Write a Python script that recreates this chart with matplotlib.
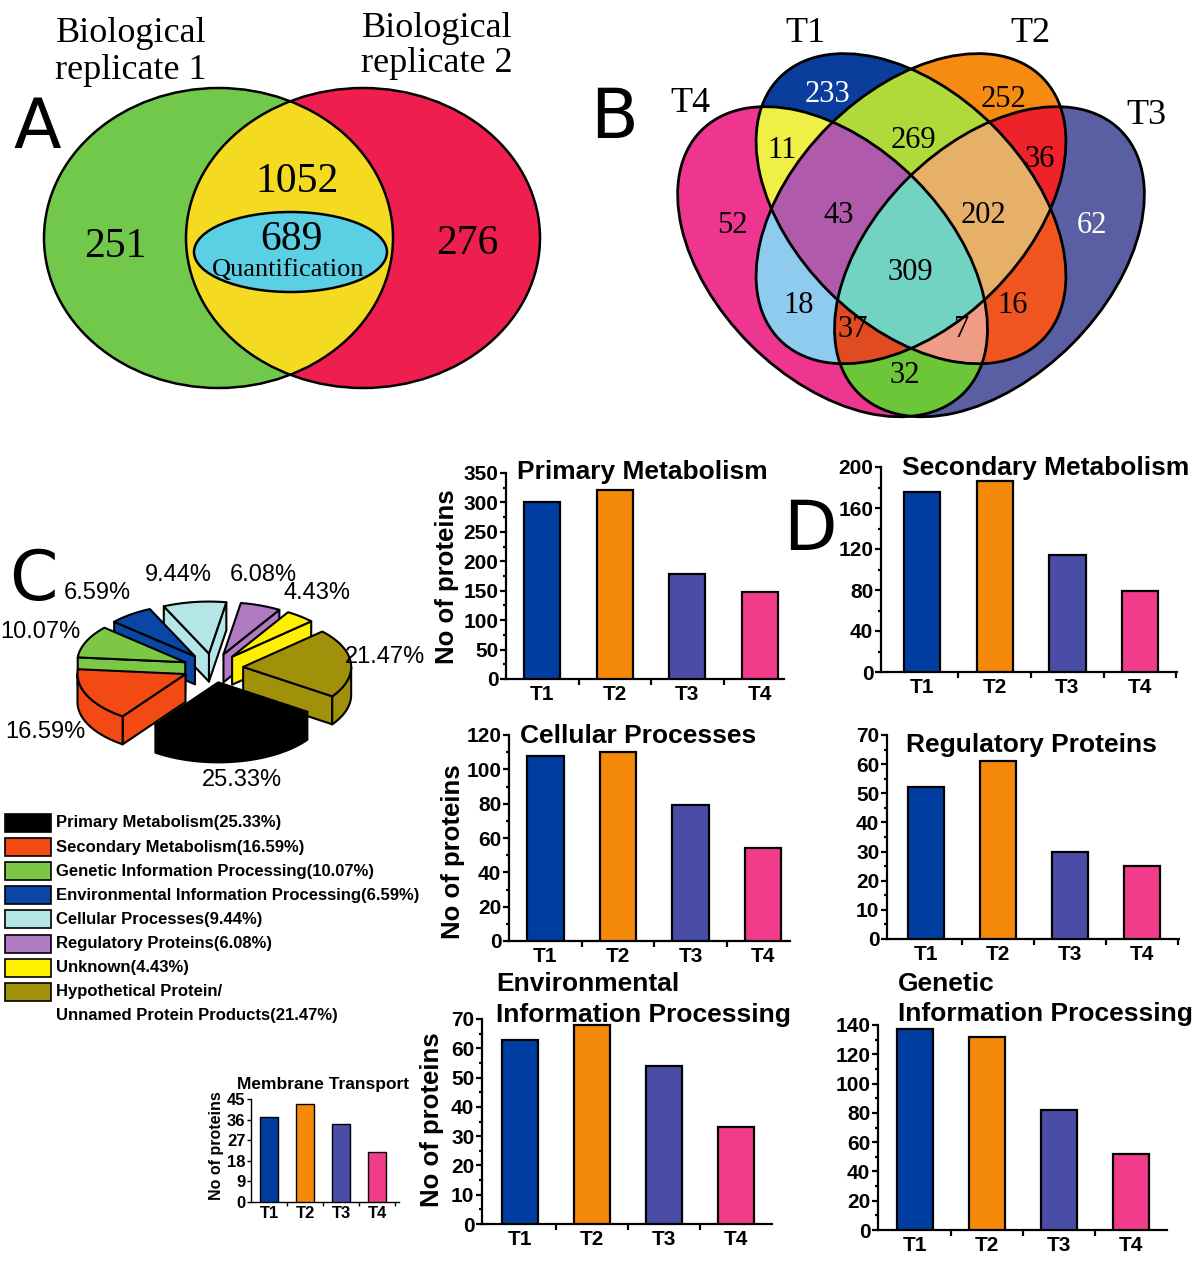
import numpy as np
import matplotlib
matplotlib.use("Agg")
import matplotlib.pyplot as plt
from matplotlib.patches import Ellipse, Polygon, Rectangle

# ------------------------------------------------------------------ data
replicate_title_1 = ["Biological", "replicate 1"]
replicate_title_2 = ["Biological", "replicate 2"]
replicate_counts = [251, 1052, 276]          # rep1 only, shared, rep2 only
quant_count = 689
quant_label = "Quantification"

venn_set_names = ["T1", "T2", "T3", "T4"]
venn_region_sets = [("T4",), ("T1",), ("T2",), ("T3",),
                    ("T4", "T1"), ("T1", "T2"), ("T2", "T3"),
                    ("T4", "T1", "T2"), ("T1", "T2", "T3"),
                    ("T1", "T2", "T3", "T4"),
                    ("T4", "T2"), ("T1", "T3"),
                    ("T4", "T2", "T3"), ("T4", "T1", "T3"), ("T4", "T3")]
venn_region_counts = [52, 233, 252, 62, 11, 269, 36, 43, 202, 309, 18, 16, 37, 7, 32]

pie_categories = ["Primary Metabolism", "Secondary Metabolism",
                  "Genetic Information Processing",
                  "Environmental Information Processing",
                  "Cellular Processes", "Regulatory Proteins", "Unknown",
                  "Hypothetical Protein/\nUnnamed Protein Products"]
pie_percent = [25.33, 16.59, 10.07, 6.59, 9.44, 6.08, 4.43, 21.47]

treatments = ["T1", "T2", "T3", "T4"]
primary_metabolism = [300, 321, 179, 147]
secondary_metabolism = [176, 186, 114, 79]
cellular_processes = [108, 110, 79, 54]
regulatory_proteins = [52, 61, 30, 25]
environmental_info = [63, 68, 54, 33]
genetic_info = [137, 132, 82, 52]
membrane_transport = [37, 43, 34, 22]

# ------------------------------------------------------------------ style
SANS = ["Liberation Sans", "DejaVu Sans"]
SERIF = ["Liberation Serif", "DejaVu Serif"]
LETTER = ["DejaVu Sans"]
W, H = 1200, 1269

fig = plt.figure(figsize=(W / 100, H / 100), dpi=100)
fig.patch.set_facecolor("white")


def rect_px(left, top, right, bottom):
    return [left / W, 1 - bottom / H, (right - left) / W, (bottom - top) / H]


# ------------------------------------------------------------------ panel B (4-set Venn)
axB = fig.add_axes(rect_px(646, 23, 1176, 458))
axB.set_xlim(0, 1)
axB.set_ylim(0.1, 0.92)
axB.axis("off")

ell_geom = {"T4": (0.352, 0.47, -45), "T1": (0.5, 0.57, -45),
            "T2": (0.5, 0.57, 45), "T3": (0.648, 0.47, 45)}
ea, eb = 0.35, 0.22
region_colors = ["#EE3690", "#0B3E9C", "#F68B12", "#5A5EA3", "#EFEF45", "#B0DA3A",
                 "#EE2229", "#B05AAB", "#E7B068", "#72D3C2", "#8ECBEF", "#F0551F",
                 "#E04B22", "#EE9C86", "#6CC637"]

nx, ny = 1200, 984
xs = np.linspace(0, 1, nx)
ys = np.linspace(0.1, 0.92, ny)
XX, YY = np.meshgrid(xs, ys)
inside = {}
for name, (x0, y0, ang) in ell_geom.items():
    t = np.radians(ang)
    dx, dy = XX - x0, YY - y0
    u = dx * np.cos(t) + dy * np.sin(t)
    v = -dx * np.sin(t) + dy * np.cos(t)
    inside[name] = (u / ea) ** 2 + (v / eb) ** 2 <= 1
img = np.ones((ny, nx, 4))
img[..., 3] = 0
for sets, col in zip(venn_region_sets, region_colors):
    m = np.ones_like(XX, dtype=bool)
    for nm in venn_set_names:
        m &= inside[nm] if nm in sets else ~inside[nm]
    img[m] = matplotlib.colors.to_rgba(col)
axB.imshow(img, extent=(0, 1, 0.1, 0.92), origin="lower",
           interpolation="nearest", aspect="auto")
for name, (x0, y0, ang) in ell_geom.items():
    axB.add_patch(Ellipse((x0, y0), 2 * ea, 2 * eb, angle=ang, fill=False,
                          ec="black", lw=2.0))

# ------------------------------------------------------------------ overlay (pixel coordinates)
ov = fig.add_axes([0, 0, 1, 1])
ov.set_xlim(0, W)
ov.set_ylim(H, 0)
ov.axis("off")
ov.set_zorder(10)
ov.patch.set_visible(False)

# ---- panel A
gA = ((218.5, 238), 349, 300)
rA = ((363, 238), 354, 300)
ov.add_patch(Ellipse(*gA, fc="#72C84A", ec="none"))
red = Ellipse(*rA, fc="#EE1F4E", ec="none")
ov.add_patch(red)
yel = Ellipse(*gA, fc="#F5DA22", ec="none")
ov.add_patch(yel)
yel.set_clip_path(red)
ov.add_patch(Ellipse(*gA, fill=False, ec="black", lw=1.8))
ov.add_patch(Ellipse(*rA, fill=False, ec="black", lw=1.8))
ov.add_patch(Ellipse((290.5, 252), 193, 80, fc="#5BCFE3", ec="black", lw=1.8))

ov.text(115, 257, str(replicate_counts[0]), ha="center", va="baseline",
        fontsize=30, family=SERIF)
ov.text(297, 192, str(replicate_counts[1]), ha="center", va="baseline",
        fontsize=30, family=SERIF)
ov.text(467, 254, str(replicate_counts[2]), ha="center", va="baseline",
        fontsize=30, family=SERIF)
ov.text(292, 250, str(quant_count), ha="center", va="baseline",
        fontsize=30, family=SERIF)
ov.text(288, 276, quant_label, ha="center", va="baseline", fontsize=19, family=SERIF)
ov.text(131, 42, replicate_title_1[0], ha="center", va="baseline", fontsize=26, family=SERIF)
ov.text(131, 79, replicate_title_1[1], ha="center", va="baseline", fontsize=26, family=SERIF)
ov.text(437, 37, replicate_title_2[0], ha="center", va="baseline", fontsize=26, family=SERIF)
ov.text(437, 72, replicate_title_2[1], ha="center", va="baseline", fontsize=26, family=SERIF)

# ---- panel B labels
venn_label_px = [(732, 223), (828, 92), (1003, 97), (1092, 223), (782, 148),
                 (913, 138), (1040, 157), (839, 213), (983, 213), (910, 270),
                 (799, 303), (1013, 303), (853, 327), (962, 327), (905, 373)]
for (x, y), cnt, col in zip(venn_label_px, venn_region_counts, region_colors):
    tc = "white" if col in ("#0B3E9C", "#5A5EA3") else "black"
    ov.text(x, y + 10, str(cnt), ha="center", va="baseline", fontsize=22,
            family=SERIF, color=tc)
set_label_px = {"T1": (805, 42), "T2": (1030, 42), "T3": (1146, 124), "T4": (690, 112)}
for nm in venn_set_names:
    x, y = set_label_px[nm]
    ov.text(x, y, nm, ha="center", va="baseline", fontsize=26, family=SERIF)

# ---- panel letters
for ch, x, y in (("A", 37, 148), ("B", 614, 138), ("C", 33, 600), ("D", 810, 550)):
    ov.text(x, y, ch, ha="center", va="baseline", fontsize=50, family=LETTER)

# ---- panel C : exploded 3-D pie
pie_colors = ["#000000", "#F24A12", "#7CC846", "#0A46A5", "#B4E6E8",
              "#B07BC3", "#FFF000", "#A0900A"]
cx, cy, Rx, Ry, hgt, expl = 213, 668, 108, 52, 28, 0.28


def proj(ang, r, mid, depth=0.0):
    a, m = np.radians(ang), np.radians(mid)
    X = cx + Rx * (r * np.cos(a) + expl * np.cos(m))
    Y = cy - Ry * (r * np.sin(a) + expl * np.sin(m)) + depth
    return X, Y


slices = []
start = -80 + 360 * pie_percent[0] / 200
for pct, col in zip(pie_percent, pie_colors):
    hi = start
    lo = start - 360 * pct / 100
    slices.append((lo, hi, col))
    start = lo
order = sorted(slices, key=lambda s: -np.sin(np.radians((s[0] + s[1]) / 2)))
kw = dict(ec="black", lw=1.5, joinstyle="round")
for lo, hi, col in order:
    mid = (lo + hi) / 2
    c0 = proj(0, 0, mid)
    for ang, vis in ((lo, np.cos(np.radians(lo)) > 0), (hi, np.cos(np.radians(hi)) < 0)):
        if vis:
            p1 = proj(ang, 1, mid)
            ov.add_patch(Polygon([c0, p1, (p1[0], p1[1] + hgt), (c0[0], c0[1] + hgt)],
                                 closed=True, fc=col, **kw))
    angs = np.linspace(lo, hi, 721)
    fr = angs[np.sin(np.radians(angs)) < 0]
    if len(fr) > 1:
        X, Y = proj(fr, 1, mid)
        pts = list(zip(X, Y)) + list(zip(X[::-1], Y[::-1] + hgt))
        ov.add_patch(Polygon(pts, closed=True, fc=col, **kw))
    X, Y = proj(angs, 1, mid)
    ov.add_patch(Polygon([c0] + list(zip(X, Y)), closed=True, fc=col, **kw))

pie_label_px = [(242, 780), (45, 732), (40, 632), (97, 593), (178, 575),
                (263, 575), (317, 593), (385, 657)]
for (x, y), pct in zip(pie_label_px, pie_percent):
    ov.text(x, y, f"{pct:.2f}%", ha="center", va="center", fontsize=17, family=SANS)

# ---- legend
row_y = [823 + 24.1 * i for i in range(len(pie_categories))]
for yy, name, pct, col in zip(row_y, pie_categories, pie_percent, pie_colors):
    ov.add_patch(Rectangle((5, yy - 9), 46, 18, fc=col, ec="black", lw=1.2))
    lines = name.split("\n")
    lines[-1] = f"{lines[-1]}({pct:.2f}%)"
    for k, ln in enumerate(lines):
        ov.text(56, yy + 24 * k, ln, ha="left", va="center", fontsize=12,
                fontweight="bold", family=SANS)

# ------------------------------------------------------------------ panel D bar charts
bar_colors = ["#003DA0", "#F5890A", "#4A4DA5", "#F03C8A"]


def bar_panel(values, left, zero, top, spacing, xlo, xhi, ymax, ystep,
              title_lines, title_x, title_base, ylab=None, small=False):
    width = (xhi - xlo) * spacing
    ax = fig.add_axes(rect_px(left, top, left + width, zero))
    ax.patch.set_visible(False)
    x = np.arange(1, len(treatments) + 1)
    ax.bar(x, values, width=0.5, color=bar_colors,
           edgecolor="black", linewidth=1.0 if small else 1.6, zorder=3)
    ax.set_xlim(xlo, xhi)
    ax.set_ylim(0, ymax)
    for s in ("top", "right"):
        ax.spines[s].set_visible(False)
    sw = 1.0 if small else 1.6
    for s in ("left", "bottom"):
        ax.spines[s].set_linewidth(sw)
    ax.set_xticks(x)
    ax.set_xticklabels(treatments)
    ax.set_xticks([v for v in (1.5, 2.5, 3.5, 4.5) if v < xhi], minor=True)
    ax.set_yticks(np.arange(0, ymax + ystep / 2, ystep))
    if not small:
        ax.set_yticks(np.arange(ystep / 2, ymax, ystep), minor=True)
    fs = 12 if small else 15
    ax.tick_params(axis="x", which="major", length=0, pad=3 if small else 4)
    ax.tick_params(axis="x", which="minor", length=3 if small else 4.5,
                   width=sw, direction="out")
    ax.tick_params(axis="y", which="major", length=3 if small else 4.5,
                   width=sw, direction="out", pad=1)
    ax.tick_params(axis="y", which="minor", length=2.5, width=sw, direction="out")
    for lab in ax.get_xticklabels() + ax.get_yticklabels():
        lab.set_fontsize(fs)
        lab.set_fontweight("bold")
        lab.set_family(SANS)
    tfs = 12.5 if small else 19
    for ln, tb in zip(title_lines, title_base):
        ov.text(title_x, tb, ln, ha="left", va="baseline", fontsize=tfs,
                fontweight="bold", family=SANS)
    if ylab is not None:
        ov.text(ylab[0], ylab[1], "No of proteins", rotation=90, ha="center",
                va="center", fontsize=11.5 if small else 18.5, fontweight="bold",
                family=SANS)
    return ax


bar_panel(primary_metabolism, 506, 679, 473, 72.5, 0.5, 4.34, 350, 50,
          ["Primary Metabolism"], 517, [479], ylab=(447, 577))
bar_panel(secondary_metabolism, 881, 672, 467, 72.7, 0.436, 4.51, 200, 40,
          ["Secondary Metabolism"], 902, [475])
bar_panel(cellular_processes, 509, 941, 735, 72.5, 0.497, 4.37, 120, 20,
          ["Cellular Processes"], 520, [743], ylab=(453, 852))
bar_panel(regulatory_proteins, 887, 939, 735, 72.0, 0.46, 4.52, 70, 10,
          ["Regulatory Proteins"], 906, [752])
bar_panel(environmental_info, 482, 1224, 1019, 72.0, 0.47, 4.5, 70, 10,
          ["Environmental", "Information Processing"], 496, [991, 1022],
          ylab=(432, 1120))
bar_panel(genetic_info, 878, 1230, 1025, 72.0, 0.49, 4.5, 140, 20,
          ["Genetic", "Information Processing"], 898, [991, 1021])
bar_panel(membrane_transport, 251, 1202, 1099, 36.0, 0.5, 4.6, 45, 9,
          ["Membrane Transport"], 237, [1089], ylab=(216, 1146), small=True)

fig.savefig("out.png", dpi=100, facecolor="white")
